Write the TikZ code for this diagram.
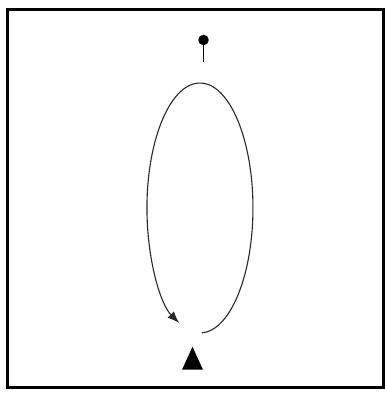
\documentclass[tikz,border=0pt]{standalone}
\usetikzlibrary{arrows.meta,shapes.geometric}
\definecolor{ink}{RGB}{40,40,40}

\begin{document}
\begin{tikzpicture}[x=1pt,y=1pt,
    pinhead/.style={circle,fill=black,inner sep=0pt,minimum size=10.5pt},
    marker/.style={isosceles triangle,isosceles triangle stretches,shape border rotate=90,
      fill=black,inner sep=0pt,minimum width=21pt,minimum height=23pt},
    loopline/.style={draw=ink,line width=1.1pt,-{Latex[length=12pt,width=9pt]}}]
        \useasboundingbox (0,0) rectangle (385,394);
        \draw[line width=3pt] (7,6) rectangle (383,384);
        \node[pinhead] (pin) at (203.5,354) {};
        \coordinate (stemend) at (203.5,332);
        \draw[line width=1.8pt] (pin.center) -- (stemend);
        \coordinate (loopstart) at (201.8,61.1);
        \draw[loopline] (loopstart) arc[start angle=-88,end angle=247,x radius=53,y radius=125];
        \node[marker] (goal) at (192.5,31) {};
      \end{tikzpicture}
\end{document}
